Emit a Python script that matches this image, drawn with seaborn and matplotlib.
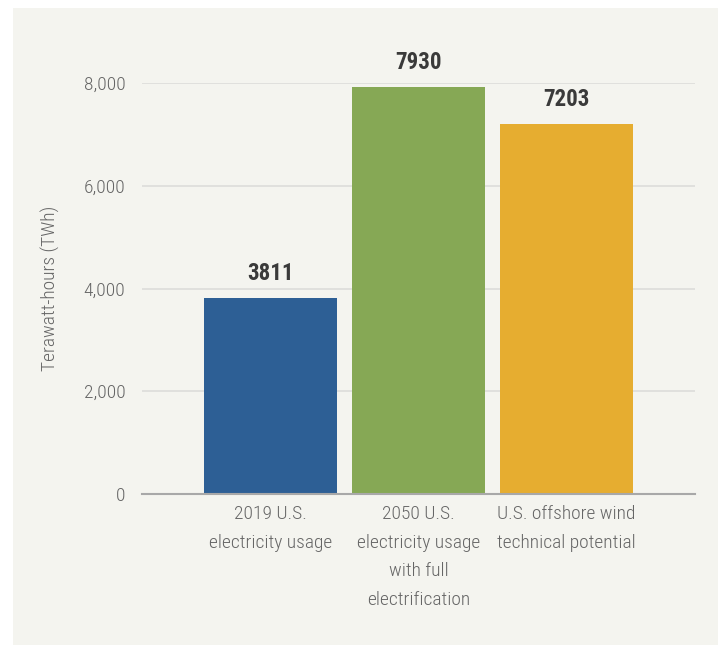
import matplotlib
matplotlib.use("Agg")
import matplotlib.pyplot as plt
import matplotlib.patches as mpatches
import seaborn as sns
import pandas as pd

# Datos del gráfico
categories = ["2019 U.S.\nelectricity usage",
              "2050 U.S.\nelectricity usage\nwith full\nelectrification",
              "U.S. offshore wind\ntechnical potential"]
values = [3811, 7930, 7203]
bar_colors = ["#2D5F95", "#86A855", "#E6AD30"]
y_ticks = [0, 2000, 4000, 6000, 8000]
y_label = "Terawatt-hours (TWh)"

BG = "#F4F4EF"
FONT = ["Roboto Condensed", "Roboto", "DejaVu Sans"]

sns.set_theme(style="white")
plt.rcParams["font.family"] = FONT

df = pd.DataFrame({"cat": categories, "twh": values})

fig = plt.figure(figsize=(7.18, 6.45), dpi=100)
fig.patch.set_facecolor("white")
# panel de fondo
fig.patches.append(mpatches.Rectangle((13 / 718, 0), 1 - 13 / 718, 1 - 8 / 645,
                                      transform=fig.transFigure, facecolor=BG,
                                      edgecolor="none", zorder=-10))

ax = fig.add_axes([142 / 718, 1 - 494 / 645, (695 - 142) / 718, (494 - 83) / 645])
ax.patch.set_alpha(0)

sns.barplot(data=df, x="cat", y="twh", hue="cat", palette=bar_colors,
            legend=False, width=0.9, saturation=1, linewidth=0, ax=ax, zorder=3)

ax.set_xlim(-0.87, 2.87)
ax.set_ylim(0, 8000)
ax.set_yticks(y_ticks)
ax.set_yticklabels([f"{t:,}" for t in y_ticks])
ax.yaxis.grid(True, color="#DCDCDA", linewidth=1.2, zorder=0)
ax.set_axisbelow(True)
for s in ["top", "right", "left"]:
    ax.spines[s].set_visible(False)
ax.spines["bottom"].set_color("#A8A8A8")
ax.spines["bottom"].set_linewidth(1.5)
ax.spines["bottom"].set_zorder(4)

ax.tick_params(axis="y", length=0, labelsize=14, colors="#666666", pad=12)
ax.tick_params(axis="x", length=0, labelsize=14, colors="#666666", pad=8)
for lbl in ax.get_xticklabels() + ax.get_yticklabels():
    lbl.set_fontweight("light")
for lbl in ax.get_xticklabels():
    lbl.set_linespacing(1.75)
ax.set_xlabel("")
ax.set_ylabel(y_label, fontsize=14, color="#666666", labelpad=17,
              fontweight="light")

for i, v in enumerate(values):
    ax.text(i, v + 250, str(v), ha="center", va="bottom", fontsize=16.5,
            fontweight="bold", color="#3A3A3A", clip_on=False)

fig.savefig("out.png", dpi=100, facecolor=fig.get_facecolor())
